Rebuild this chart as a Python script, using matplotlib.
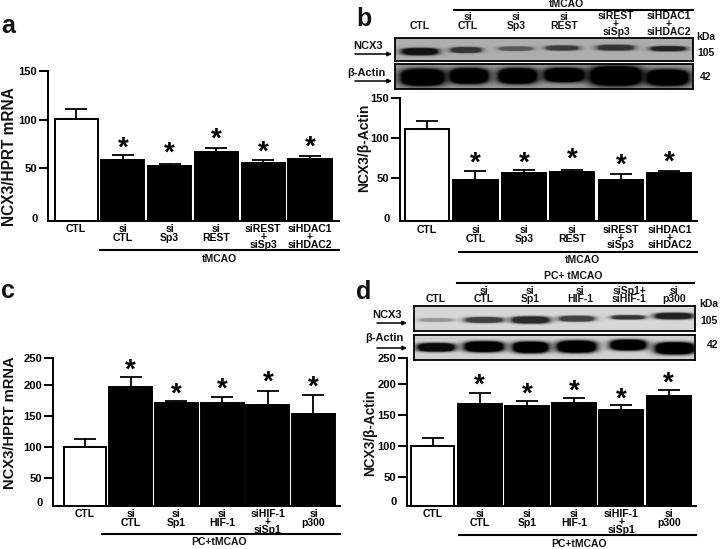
import numpy as np
import matplotlib
matplotlib.use('Agg')
import matplotlib.pyplot as plt

plt.rcParams['font.family'] = ['Liberation Sans', 'DejaVu Sans']
plt.rcParams['font.weight'] = 'bold'

W, H = 720, 549

# panel a
labels_a = ['CTL', 'si\nCTL', 'si\nSp3', 'si\nREST', 'siREST\n+\nsiSp3', 'siHDAC1\n+\nsiHDAC2']
vals_a = [100.7, 58, 52, 67, 55, 59]
tops_a = [111, 63.4, 54.8, 71.2, 58.2, 62.7]
stars_a = [75, 70, 84, 71, 76]

# panel b
labels_b = labels_a
vals_b = [110.5, 47, 56, 57, 47, 55.4]
tops_b = [121, 58.7, 59.6, 59.6, 54, 58.3]
stars_b = [74, 73, 79, 71, 75]

# panel c
labels_c = ['CTL', 'si\nCTL', 'si\nSp1', 'si\nHIF-1', 'siHIF-1\n+\nsiSp1', 'si\np300']
vals_c = [99, 196, 170, 171, 166.5, 153]
tops_c = [112, 212, 173, 180.5, 190, 184]
stars_c = [231, 192, 200, 211, 203]

# panel d
labels_d = labels_c
vals_d = [100, 168, 164, 168.5, 157, 180]
tops_d = [112, 185.5, 172, 177, 166, 190]
stars_d = [205, 190, 195, 182, 207]

# blot bands: centre x, centre y, half width, half height, darkness (3x zoom units)
b_ncx3 = [(180, 155, 50, 10, .9), (318, 150, 42, 8, .7), (467, 146, 45, 6, .5),
          (607, 144, 45, 7, .65), (767, 143, 50, 8, .7), (925, 146, 48, 7, .8)]
b_actin = [(188, 232, 62, 24, 1), (327, 228, 55, 22, 1), (473, 228, 55, 22, 1),
           (613, 225, 57, 20, 1), (768, 228, 75, 28, 1), (923, 233, 60, 23, 1)]
d_ncx3 = [(228, 150, 45, 5, .3), (372, 150, 52, 8, .7), (512, 150, 52, 10, .8),
          (650, 146, 48, 8, .7), (805, 142, 45, 6, .75), (942, 138, 52, 9, .85)]
d_actin = [(228, 232, 52, 12, .95), (372, 230, 55, 15, 1), (512, 232, 50, 16, 1),
           (650, 230, 55, 17, 1), (805, 225, 50, 15, 1), (945, 235, 55, 17, 1)]

fig = plt.figure(figsize=(W / 100, H / 100), dpi=100, facecolor='white')


def label(x, y, s, size=7.5, **kw):
    kw.setdefault('ha', 'center')
    kw.setdefault('va', 'center')
    fig.text(x / W, 1 - y / H, s, fontsize=size, fontweight='bold', color='#111111', **kw)


def hline(x0, x1, y, lw=1.5):
    fig.add_artist(plt.Line2D([x0 / W, x1 / W], [1 - y / H, 1 - y / H], color='black', lw=lw))


def arrow(x0, x1, y):
    fig.add_artist(matplotlib.patches.FancyArrowPatch(
        (x0 / W, 1 - y / H), (x1 / W, 1 - y / H), transform=fig.transFigure,
        arrowstyle='-|>', mutation_scale=6, color='black', lw=1.1, shrinkA=0, shrinkB=0))


def bar_panel(box, xlim, ylim, width, labels, vals, tops, stars, ticks, ticklabels, zero_y):
    l, r, t, b = box
    ax = fig.add_axes([l / W, 1 - b / H, (r - l) / W, (b - t) / H])
    x = np.arange(len(vals))
    ymin = ylim[0]
    ax.errorbar(x, vals, yerr=[np.zeros(len(vals)), np.array(tops) - np.array(vals)], fmt='none',
                ecolor='black', elinewidth=1.3, capsize=8, capthick=1.3, zorder=1)
    colors = ['white'] + ['black'] * 5
    ax.bar(x, np.array(vals) - ymin, bottom=ymin, width=width, color=colors, edgecolor='black',
           linewidth=1.4, zorder=2)
    for xi, s in zip(x[1:], stars):
        ax.annotate('*', (xi, s), xytext=(0, -3.5), textcoords='offset points', ha='center', va='center',
                    fontsize=20, fontweight='bold', color='black', annotation_clip=False)
    ax.set_xlim(*xlim)
    ax.set_ylim(*ylim)
    ax.set_yticks(ticks, labels=ticklabels)
    ax.set_xticks(x, labels=labels)
    ax.tick_params(axis='y', length=6.5, width=1.4, pad=1.5, labelsize=8)
    ax.tick_params(axis='x', length=0, pad=2.5, labelsize=7.5)
    for lab in ax.get_xticklabels():
        lab.set_linespacing(0.72 if lab.get_text().count('\n') == 2 else 0.85)
    ax.annotate('0', (0, zero_y), xycoords=('axes fraction', 'data'), xytext=(-7.5, 0),
                textcoords='offset points', ha='right', va='center', fontsize=8, fontweight='bold')
    for side in ['top', 'right']:
        ax.spines[side].set_visible(False)
    for side in ['left', 'bottom']:
        ax.spines[side].set_linewidth(1.4)
    return ax


def blot(box, origin, bands, bg):
    l, r, t, b = box
    ax = fig.add_axes([l / W, 1 - b / H, (r - l) / W, (b - t) / H])
    xs, ys = np.meshgrid(np.linspace(l, r, (r - l) * 3), np.linspace(t, b, (b - t) * 3))
    img = np.full(xs.shape, bg, dtype=float)
    for cx, cy, hw, hh, d in bands:
        px = origin[0] + cx / 3
        py = origin[1] + cy / 3
        # flat dark core with a soft rim, the way an overexposed band looks
        shade = np.exp(-(np.abs((xs - px) / (hw / 3)) ** 3 + np.abs((ys - py) / (hh / 3)) ** 3))
        img = img * (1 - d * np.minimum(1, 2.6 * shade))
    ax.imshow(img, cmap='gray', vmin=0, vmax=1, aspect='auto', interpolation='bilinear')
    ax.set_xticks([])
    ax.set_yticks([])
    for s in ax.spines.values():
        s.set_linewidth(1.3)


bar_panel((48, 339, 71, 220.7), (-0.6, 5.62), (-4, 150), 0.92, labels_a, vals_a, tops_a, stars_a,
          [50, 100, 150], ['50', '100', '150'], -2)
bar_panel((400, 697, 97.7, 221.3), (-0.557, 5.57), (-4.6, 150), 0.91, labels_b, vals_b, tops_b, stars_b,
          [50, 100, 150], ['50', '100', '150'], -2)
bar_panel((53, 340, 358, 506), (-0.7, 5.58), (4, 243), 0.94, labels_c, vals_c, tops_c, stars_c,
          [50, 100, 150, 200, 243], ['50', '100', '150', '200', '250'], 9)
bar_panel((407, 696, 358, 506), (-0.54, 5.58), (3.7, 241), 0.93, labels_d, vals_d, tops_d, stars_d,
          [50, 100, 150, 200, 241], ['50', '100', '150', '200', '250'], 10)

blot((395, 693, 38, 61), (360, 0), b_ncx3, 0.68)
blot((395, 693, 64, 89), (360, 0), b_actin, 0.6)
blot((414, 695, 306, 331), (360, 270), d_ncx3, 0.84)
blot((414, 695, 335, 360), (360, 270), d_actin, 0.82)

# y titles
label(10, 157, 'NCX3/HPRT mRNA', size=11.2, rotation=90)
label(364, 148, 'NCX3/β-Actin', size=10, rotation=90)
label(10, 423, 'NCX3/HPRT mRNA', size=10.6, rotation=90)
label(370, 433, 'NCX3/β-Actin', size=9.8, rotation=90)

# panel letters
label(8, 26, 'a', size=18)
label(364, 19, 'b', size=18)
label(8, 291, 'c', size=18)
label(364, 292, 'd', size=18)

# group bars under the charts
hline(100, 339, 250)
label(219, 259, 'tMCAO')
hline(459, 697, 252)
label(582, 260, 'tMCAO')
hline(102, 340, 534)
label(219, 542, 'PC+tMCAO')
hline(459, 696, 535)
label(579, 544, 'PC+tMCAO')

# blot headings b
hline(454, 693, 10)
label(566, 4, 'tMCAO')
label(420, 26, 'CTL')
label(468, 21.5, 'si\nCTL', linespacing=0.85)
label(516, 21.5, 'si\nSp3', linespacing=0.85)
label(564, 21.5, 'si\nREST', linespacing=0.85)
label(616, 24, 'siREST\n+\nsiSp3', linespacing=0.72)
label(669, 24, 'siHDAC1\n+\nsiHDAC2', linespacing=0.72)
label(706, 37, 'kDa')
label(706, 53, '105')
label(706, 77, '42')
label(368, 46, 'NCX3', size=8)
label(366, 73, 'β-Actin', size=8)
arrow(355, 392, 54)
arrow(355, 392, 81)

# blot headings d
hline(457, 694, 283)
label(573, 276, 'PC+ tMCAO')
label(436, 299, 'CTL')
label(484, 295, 'si\nCTL', linespacing=0.85)
label(530, 295, 'si\nSp1', linespacing=0.85)
label(580, 295, 'si\nHIF-1', linespacing=0.85)
label(629, 295, 'siSp1+\nsiHIF-1', linespacing=0.85)
label(674, 295, 'si\np300', linespacing=0.85)
label(709, 304, 'kDa')
label(709, 321, '105')
label(713, 345, '42')
label(387, 315, 'NCX3', size=8)
label(384, 338, 'β-Actin', size=8)
arrow(377, 407, 323)
arrow(377, 407, 348)

fig.savefig('out.png', dpi=100)
